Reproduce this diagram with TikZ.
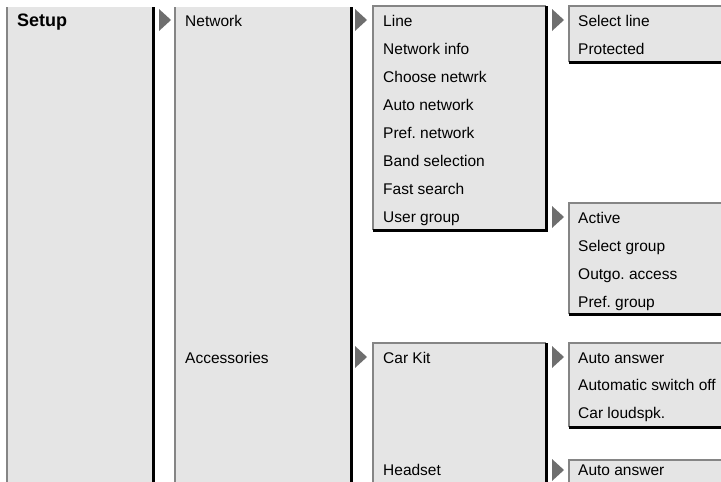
\documentclass[tikz,border=0pt]{standalone}
\usepackage{fontspec}
\setmainfont{Liberation Sans}
\usetikzlibrary{positioning}
\frenchspacing

\definecolor{boxgray}{HTML}{E5E5E5}
\definecolor{edgegray}{HTML}{858585}
\definecolor{tipgray}{HTML}{6E6E6E}

\tikzset{
    menu/.style={rectangle, fill=boxgray, inner sep=0pt, anchor=north west},
    lite/.style={draw=edgegray, line width=2pt},
    dark/.style={draw=black, line width=3pt},
    entry/.style={anchor=base west, inner sep=0pt, font=\fontsize{15.5}{18}\selectfont},
    pointer/.style={fill=tipgray}
}

% frame of a closed menu box: light top/left, dark right/bottom
\newcommand{\rim}[1]{%
    \draw[lite] (#1.south west) -- (#1.north west) -- (#1.north east);
    \draw[dark] (#1.north east) -- (#1.south east) -- (#1.south west);}
% small pointer triangle, left edge x, middle y
\newcommand{\tip}[2]{\fill[pointer] (#1,#2-11) -- (#1+12,#2) -- (#1,#2+11) -- cycle;}

\begin{document}
\begin{tikzpicture}[x=1pt, y=-1pt]
    \useasboundingbox (0,0) rectangle (721,482);
    \clip (0,0) rectangle (721,482);

    % Menu boxes
    \node[menu, minimum width=146pt, minimum height=490pt] (setupcol) at (7,7) {};
    \node[menu, minimum width=176pt, minimum height=490pt] (subcol) at (175,7) {};
    \node[menu, minimum width=173pt, minimum height=224pt] (netbox) at (373,6) {};
    \node[menu, minimum width=170pt, minimum height=56pt] (linebox) at (569,6) {};
    \node[menu, minimum width=170pt, minimum height=111pt] (groupbox) at (569,203) {};
    \node[menu, minimum width=173pt, minimum height=150pt] (accbox) at (373,343) {};
    \node[menu, minimum width=170pt, minimum height=84pt] (carbox) at (569,343) {};
    \node[menu, minimum width=170pt, minimum height=40pt] (headbox) at (569,460) {};

    % Edges
    \draw[lite] (setupcol.south west) -- (setupcol.north west);
    \draw[dark] (setupcol.north east) -- (setupcol.south east);
    \draw[lite] (subcol.south west) -- (subcol.north west);
    \draw[dark] (subcol.north east) -- (subcol.south east);
    \rim{netbox}
    \rim{linebox}
    \rim{groupbox}
    \rim{carbox}
    \draw[lite] (accbox.south west) -- (accbox.north west) -- (accbox.north east);
    \draw[dark] (accbox.north east) -- (accbox.south east);
    \draw[lite] (headbox.south west) -- (headbox.north west) -- (headbox.north east);

    % Pointers
    \tip{159}{20}
    \tip{355}{20}
    \tip{552}{20}
    \tip{552}{217}
    \tip{355}{357}
    \tip{552}{357}
    \tip{552}{470}

    % Texts
    \node[entry, font=\fontsize{18}{21}\selectfont\bfseries] (setup) at (17,26) {Setup};
    \node[entry] (network) at (185,26) {Network};
    \node[entry] (acc) at (185,363) {Accessories};
    \foreach \txt [count=\i from 0] in {Line, Network info, Choose netwrk, Auto network,
        Pref. network, Band selection, Fast search, User group}
        \node[entry] (net\i) at (383,26+28*\i) {\txt};
    \node[entry] (selline) at (578,26) {Select line};
    \node[entry] (prot) at (578,54) {Protected};
    \foreach \txt [count=\i from 0] in {Active, Select group, Outgo. access, Pref. group}
        \node[entry] (grp\i) at (578,223+28*\i) {\txt};
    \node[entry] (carkit) at (383,363) {Car Kit};
    \node[entry] (headset) at (383,475) {Headset};
    \foreach \txt [count=\i from 0] in {Auto answer, Automatic switch off, Car loudspk.}
        \node[entry] (car\i) at (578,363+27.5*\i) {\txt};
    \node[entry] (headans) at (578,475) {Auto answer};
\end{tikzpicture}
\end{document}
